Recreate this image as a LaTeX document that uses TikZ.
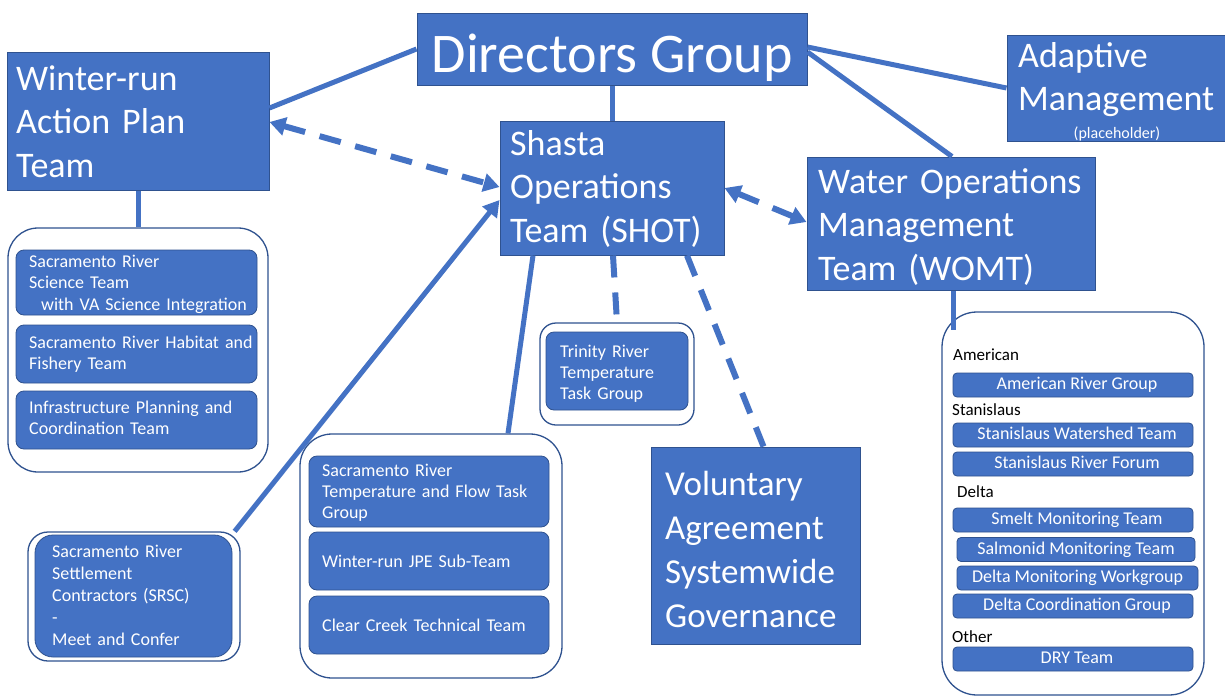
\documentclass[tikz,border=0pt]{standalone}
\usepackage{fontspec}
\setmainfont{Carlito}
\usetikzlibrary{arrows.meta}
\definecolor{blu}{HTML}{4472C4}
\definecolor{bdr}{HTML}{2F528F}
\begin{document}
\begin{tikzpicture}[x=1pt,y=-1pt,
  bigbox/.style={draw=bdr, line width=1pt, fill=blu, inner sep=0},
  cont/.style={draw=bdr, line width=1.3pt, fill=white, inner sep=0},
  ibox/.style={draw=bdr, line width=0.8pt, fill=blu, inner sep=0, rounded corners=8pt},
  rbox/.style={draw=bdr, line width=0.8pt, fill=blu, inner sep=0, rounded corners=4pt,
    minimum height=24pt, text=white, font=\fontsize{18}{21}\selectfont, text height=12pt, text depth=3pt},
  bigtxt/.style={anchor=base west, inner sep=0, text=white, align=left, font=\fontsize{36}{43.5}\selectfont},
  smtxt/.style={anchor=base west, inner sep=0, text=white, align=left, font=\fontsize{18}{21.5}\selectfont},
  lbl/.style={anchor=base west, inner sep=0, text=black, font=\fontsize{17}{20}\selectfont},
  conn/.style={draw=blu, line width=5pt},
  dconn/.style={draw=blu, line width=6pt, dash pattern=on 22pt off 15pt},
  tip/.tip={Triangle[length=16pt,width=18pt]}
]
\useasboundingbox (0,0) rectangle (1225,696);
\fill[white] (0,0) rectangle (1225,696);

% main boxes
\node[bigbox, minimum width=390pt, minimum height=72pt] (dg) at (612,49) {};
\node[bigbox, minimum width=262pt, minimum height=138pt] (wr) at (138,121) {};
\node[bigbox, minimum width=224pt, minimum height=134pt] (sh) at (612,188) {};
\node[bigbox, minimum width=221pt, minimum height=106pt] (am) at (1117.5,88) {};
\node[bigbox, minimum width=288pt, minimum height=133pt] (wo) at (951,223.5) {};
\node[bigbox, minimum width=209pt, minimum height=197pt] (va) at (755.5,545.5) {};

\node[anchor=base, inner sep=0, text=white, font=\fontsize{56}{60}\selectfont] (dgt) at (612,72) {Directors Group};
\node[bigtxt, text width=245pt] (wrt) at (16,90) {Winter-run\\Action Plan\\Team};
\node[bigtxt, text width=210pt] (sht) at (510,155) {Shasta\\Operations\\Team (SHOT)};
\node[bigtxt, text width=205pt] (amt) at (1018,67) {Adaptive\\Management};
\node[anchor=base, inner sep=0, text=white, font=\fontsize{16}{18}\selectfont] (amp) at (1117,138) {(placeholder)};
\node[bigtxt, text width=272pt] (wot) at (818,193) {Water Operations\\Management\\Team (WOMT)};
\node[bigtxt, text width=190pt, font=\fontsize{35}{44}\selectfont] (vat) at (665,495) {Voluntary\\Agreement\\Systemwide\\Governance};

% containers
\node[cont, rounded corners=30pt, minimum width=260pt, minimum height=244pt] (lc) at (138,350) {};
\node[cont, rounded corners=32pt, minimum width=262pt, minimum height=244pt] (cc) at (431,556) {};
\node[cont, rounded corners=16pt, minimum width=154pt, minimum height=102pt] (tc) at (617,374) {};
\node[cont, rounded corners=20pt, minimum width=212pt, minimum height=129pt] (sc) at (134,596.5) {};
\node[cont, rounded corners=35pt, minimum width=262pt, minimum height=383pt] (rc) at (1073,503.5) {};

% left group
\node[ibox, minimum width=241pt, minimum height=65pt] (l1) at (136.5,282.5) {};
\node[ibox, minimum width=241pt, minimum height=58pt] (l2) at (136.5,354) {};
\node[ibox, minimum width=241pt, minimum height=58pt] (l3) at (136.5,420) {};
\node[smtxt, text width=225pt] (l1t) at (29,267) {Sacramento River\\Science Team\\\hspace*{12pt}with VA Science Integration};
\node[smtxt, text width=225pt] (l2t) at (29,348) {Sacramento River Habitat and\\Fishery Team};
\node[smtxt, text width=225pt] (l3t) at (29,413) {Infrastructure Planning and\\Coordination Team};

% center group
\node[ibox, minimum width=240pt, minimum height=71pt] (c1) at (429,491.5) {};
\node[ibox, minimum width=240pt, minimum height=58pt] (c2) at (429,561) {};
\node[ibox, minimum width=240pt, minimum height=58pt] (c3) at (429,625) {};
\node[smtxt, text width=222pt, font=\fontsize{18}{21}\selectfont] (c1t) at (322,476) {Sacramento River\\Temperature and Flow Task\\Group};
\node[smtxt, text width=222pt] (c2t) at (322,567) {Winter-run JPE Sub-Team};
\node[smtxt, text width=222pt] (c3t) at (322,631) {Clear Creek Technical Team};

% trinity
\node[ibox, minimum width=142pt, minimum height=78pt] (t1) at (617,371) {};
\node[smtxt, text width=124pt, font=\fontsize{18}{21}\selectfont] (t1t) at (560,357) {Trinity River\\Temperature\\Task Group};

% SRSC
\node[ibox, rounded corners=18pt, minimum width=197pt, minimum height=122pt] (s1) at (133.5,596) {};
\node[smtxt, text width=175pt, font=\fontsize{18}{22}\selectfont] (s1t) at (52,557) {Sacramento River\\Settlement\\Contractors (SRSC)\\-\\Meet and Confer};

% right panel
\node[lbl] (la) at (953,360) {American};
\node[rbox, minimum width=240pt] (r1) at (1073,385) {\hspace*{8pt}American River Group};
\node[lbl] (ls) at (952,415) {Stanislaus};
\node[rbox, minimum width=240pt] (r2) at (1073,435) {\hspace*{8pt}Stanislaus Watershed Team};
\node[rbox, minimum width=240pt] (r3) at (1073,464) {\hspace*{8pt}Stanislaus River Forum};
\node[lbl] (ld) at (957,497) {Delta};
\node[rbox, minimum width=240pt] (r4) at (1073,520) {\hspace*{8pt}Smelt Monitoring Team};
\node[rbox, minimum width=238pt] (r5) at (1076,549.5) {Salmonid Monitoring Team};
\node[rbox, minimum width=241pt] (r6) at (1077.5,578) {Delta Monitoring Workgroup};
\node[rbox, minimum width=240pt] (r7) at (1073,606) {\hspace*{8pt}Delta Coordination Group};
\node[lbl] (lo) at (952,642) {Other};
\node[rbox, minimum width=240pt] (r8) at (1073,659) {\hspace*{8pt}DRY Team};

\coordinate (rcend) at (953,330);

% connectors
\draw[conn] (dg.west) -- ([yshift=13pt]wr.east);
\draw[conn] (dg.south) -- (sh.north);
\draw[conn] ([yshift=2pt]dg.east) -- (am.west);
\draw[conn] ([yshift=-3pt]dg.east) -- ([xshift=1pt]wo.north);
\draw[conn] (wr.south) -- (lc.north);
\draw[conn] ([xshift=-79pt]sh.south) -- ([xshift=77pt]cc.north);
\draw[conn, -tip] ([xshift=-6pt]sc.north east) -- ([yshift=-12pt]sh.west);
\draw[conn] ([xshift=2pt]wo.south) -- (rcend);
\draw[dconn, tip-tip] ([yshift=-1pt]wr.east) -- ([yshift=1pt]sh.west);
\draw[dconn, tip-tip] (sh.east) -- ([yshift=1.5pt]wo.west);
\draw[dconn] ([xshift=1pt]sh.south) -- (tc.north);
\draw[dconn] ([xshift=75pt]sh.south) -- ([xshift=8pt]va.north);
\end{tikzpicture}
\end{document}
